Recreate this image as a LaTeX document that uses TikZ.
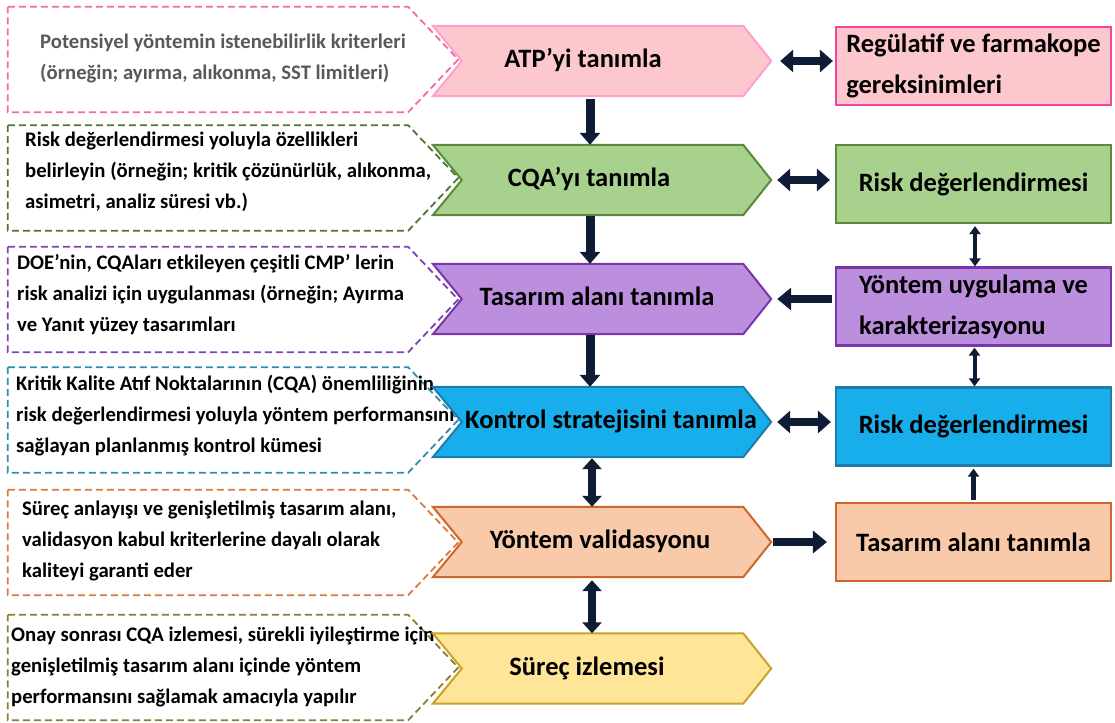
\documentclass[tikz,border=0pt]{standalone}
\usepackage{fontspec}
\setmainfont{Carlito}
\usetikzlibrary{arrows.meta}

% palette
\definecolor{pinkfill}{HTML}{FCC7CD}
\definecolor{pinkline}{HTML}{FFA0D0}
\definecolor{pinkbox}{HTML}{F5459A}
\definecolor{pinkdash}{HTML}{F76A9C}
\definecolor{greenfill}{HTML}{A9D18E}
\definecolor{greenline}{HTML}{5A8A3C}
\definecolor{greendash}{HTML}{4F7436}
\definecolor{purplefill}{HTML}{BC8EDE}
\definecolor{purpleline}{HTML}{7A35AA}
\definecolor{purpledash}{HTML}{7C44B4}
\definecolor{bluefill}{HTML}{17AEEB}
\definecolor{blueline}{HTML}{1E7DA8}
\definecolor{bluedash}{HTML}{2E8DB0}
\definecolor{orangefill}{HTML}{F8CAAA}
\definecolor{orangeline}{HTML}{D0662A}
\definecolor{orangedash}{HTML}{DA7A40}
\definecolor{yellowfill}{HTML}{FFE597}
\definecolor{yellowline}{HTML}{C9A227}
\definecolor{yellowdash}{HTML}{8E7E30}
\definecolor{arrowink}{HTML}{0E1C36}
\definecolor{greytext}{HTML}{595959}

% outlines built on the anchors of an invisible frame node
\newcommand{\chevpath}[1]{(#1.north west) -- ([xshift=-28pt]#1.north east) -- (#1.east) -- ([xshift=-28pt]#1.south east) -- (#1.south west) -- ([xshift=29pt]#1.west) -- cycle}
\newcommand{\notepath}[1]{(#1.north west) -- ([xshift=-50pt]#1.north east) -- (#1.east) -- ([xshift=-50pt]#1.south east) -- (#1.south west) -- cycle}

\tikzset{
  chevframe/.style={rectangle, minimum width=338pt, minimum height=70pt, inner sep=0pt},
  noteframe/.style={rectangle, minimum width=450pt, minimum height=105pt, inner sep=0pt},
  chevtext/.style={font=\bfseries\fontsize{26.5}{32}\selectfont, inner sep=0pt, text height=18pt, text depth=5pt},
  notetext/.style={font=\bfseries\fontsize{20.7}{31}\selectfont, align=left, anchor=west, inner sep=0pt},
  sidebox/.style={rectangle, draw, minimum width=275pt, minimum height=78pt, line width=2.2pt,
    font=\bfseries\fontsize{26.5}{41}\selectfont, align=left, inner sep=0pt},
  chevline/.style={line width=2pt, line join=miter},
  dashline/.style={line width=1.8pt, dash pattern=on 7pt off 4pt, fill=white},
  bigarrow/.style={draw=arrowink, line width=8pt, -{Triangle[width=22pt,length=14pt]}},
  bigboth/.style={draw=arrowink, line width=8pt, {Triangle[width=22pt,length=13pt]}-{Triangle[width=22pt,length=13pt]}},
  colarrow/.style={draw=arrowink, line width=9pt, -{Triangle[width=20pt,length=12pt]}},
  colboth/.style={draw=arrowink, line width=8pt, {Triangle[width=19pt,length=11pt]}-{Triangle[width=19pt,length=11pt]}},
  thinboth/.style={draw=arrowink, line width=4pt, {Triangle[width=11pt,length=8pt]}-{Triangle[width=11pt,length=8pt]}},
  thinarrow/.style={draw=arrowink, line width=4.5pt, -{Triangle[width=11pt,length=8pt]}},
}

\begin{document}
\begin{tikzpicture}[x=1pt, y=-1pt]
\useasboundingbox (0,0) rectangle (1115,722);

% dashed note frames on the left
\node[noteframe] (n1) at (233,59.5) {};
\node[noteframe] (n2) at (233,178) {};
\node[noteframe] (n3) at (233,299.5) {};
\node[noteframe] (n4) at (233,420) {};
\node[noteframe] (n5) at (233,542.5) {};
\node[noteframe] (n6) at (233,667.5) {};
\filldraw[dashline, draw=pinkdash] \notepath{n1};
\filldraw[dashline, draw=greendash] \notepath{n2};
\filldraw[dashline, draw=purpledash] \notepath{n3};
\filldraw[dashline, draw=bluedash] \notepath{n4};
\filldraw[dashline, draw=orangedash] \notepath{n5};
\filldraw[dashline, draw=yellowdash] \notepath{n6};

\node[notetext, text=greytext] (n1t) at (40,58) {Potensiyel yöntemin istenebilirlik kriterleri\\(örneğin; ayırma, alıkonma, SST limitleri)};
\node[notetext] (n2t) at (25,172) {Risk değerlendirmesi yoluyla özellikleri\\belirleyin (örneğin; kritik çözünürlük, alıkonma,\\asimetri, analiz süresi vb.)};
\node[notetext] (n3t) at (17,295) {DOE’nin, CQAları etkileyen çeşitli CMP’ lerin\\risk analizi için uygulanması (örneğin; Ayırma\\ve Yanıt yüzey tasarımları};
\node[notetext] (n4t) at (16,416) {Kritik Kalite Atıf Noktalarının (CQA) önemliliğinin\\risk değerlendirmesi yoluyla yöntem performansını\\sağlayan planlanmış kontrol kümesi};
\node[notetext] (n5t) at (22,541) {Süreç anlayışı ve genişletilmiş tasarım alanı,\\validasyon kabul kriterlerine dayalı olarak\\kaliteyi garanti eder};
\node[notetext] (n6t) at (11,667) {Onay sonrası CQA izlemesi, sürekli iyileştirme için\\genişletilmiş tasarım alanı içinde yöntem\\performansını sağlamak amacıyla yapılır};

% central chevrons
\node[chevframe] (c1) at (602,61) {};
\node[chevframe] (c2) at (602,180) {};
\node[chevframe] (c3) at (602,299) {};
\node[chevframe] (c4) at (602,422) {};
\node[chevframe] (c5) at (602,542) {};
\node[chevframe] (c6) at (602,668.5) {};
\filldraw[chevline, fill=pinkfill, draw=pinkline] \chevpath{c1};
\filldraw[chevline, fill=greenfill, draw=greenline] \chevpath{c2};
\filldraw[chevline, fill=purplefill, draw=purpleline] \chevpath{c3};
\filldraw[chevline, fill=bluefill, draw=blueline] \chevpath{c4};
\filldraw[chevline, fill=orangefill, draw=orangeline] \chevpath{c5};
\filldraw[chevline, fill=yellowfill, draw=yellowline] \chevpath{c6};

\node[chevtext] (c1t) at (583,61) {ATP’yi tanımla};
\node[chevtext] (c2t) at (589,180) {CQA’yı tanımla};
\node[chevtext] (c3t) at (597,299) {Tasarım alanı tanımla};
\node[chevtext] (c4t) at (611,422) {Kontrol stratejisini tanımla};
\node[chevtext] (c5t) at (600,542) {Yöntem validasyonu};
\node[chevtext] (c6t) at (587,668.5) {Süreç izlemesi};

% boxes on the right
\node[sidebox, fill=pinkfill, draw=pinkbox] (r1) at (973.5,66) {Regülatif ve farmakope\\gereksinimleri};
\node[sidebox, fill=greenfill, draw=greenline] (r2) at (973.5,184) {Risk değerlendirmesi};
\node[sidebox, fill=purplefill, draw=purpleline] (r3) at (973.5,306.5) {Yöntem uygulama ve\\karakterizasyonu};
\node[sidebox, fill=bluefill, draw=blueline] (r4) at (973.5,426.5) {Risk değerlendirmesi};
\node[sidebox, fill=orangefill, draw=orangeline] (r5) at (973.5,542) {Tasarım alanı tanımla};

% horizontal connectors
\draw[bigboth] ([xshift=9pt]c1.east) -- ([xshift=-2pt]c1.east -| r1.west);
\draw[bigboth] ([xshift=6pt]c2.east) -- ([xshift=-5pt]c2.east -| r2.west);
\draw[bigarrow] ([xshift=-3pt]c3.east -| r3.west) -- ([xshift=6pt]c3.east);
\draw[bigboth] ([xshift=6pt]c4.east) -- ([xshift=-4pt]c4.east -| r4.west);
\draw[bigarrow] ([xshift=2pt]c5.east) -- ([xshift=-8pt]c5.east -| r5.west);

% vertical connectors in the main column
\draw[colarrow] ([xshift=-12pt,yshift=-3pt]c1.south) -- ([xshift=-12pt]c2.north);
\draw[colarrow] ([xshift=-12pt,yshift=-1pt]c2.south) -- ([xshift=-12pt]c3.north);
\draw[colarrow] ([xshift=-12pt,yshift=-1pt]c3.south) -- ([xshift=-12pt]c4.north);
\draw[colboth] ([xshift=-10pt,yshift=-1pt]c4.south) -- ([xshift=-10pt]c5.north);
\draw[colboth] ([xshift=-10pt,yshift=-3pt]c5.south) -- ([xshift=-10pt]c6.north);

% vertical connectors in the right column
\draw[thinboth] ([xshift=1.5pt,yshift=-2pt]r2.south) -- ([xshift=1.5pt]r3.north);
\draw[thinboth] ([xshift=1pt,yshift=-1pt]r3.south) -- ([xshift=1pt]r4.north);
\draw[thinarrow] ([xshift=0pt,yshift=2pt]r5.north) -- ([xshift=0pt,yshift=-2pt]r4.south);
\end{tikzpicture}
\end{document}
